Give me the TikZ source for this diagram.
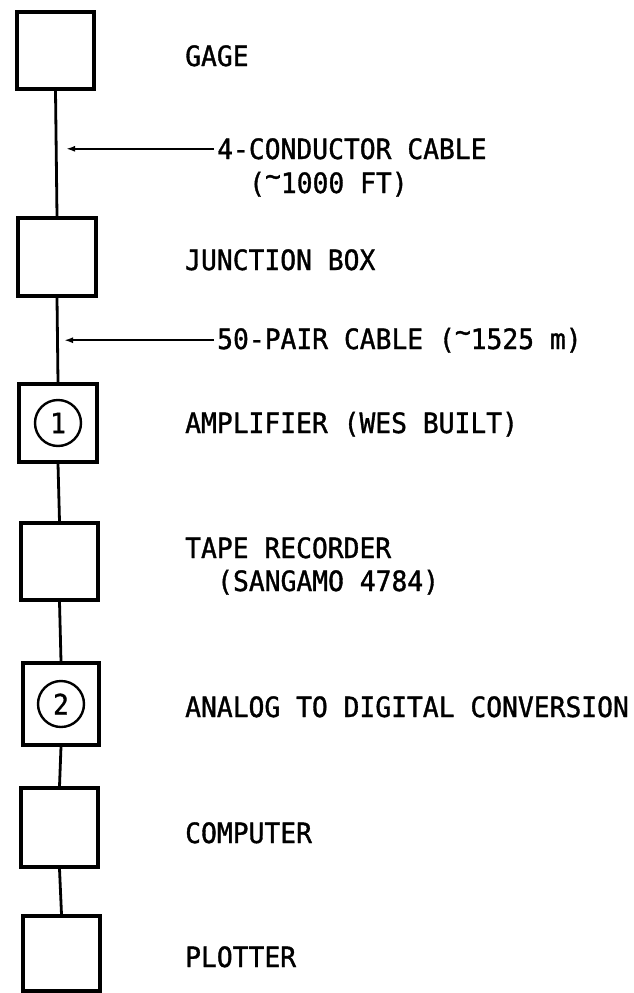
\documentclass[tikz,border=0pt]{standalone}
\usepackage{fontspec}
\newfontfamily\labfont{DejaVu Sans Mono}[FakeStretch=0.94,FakeBold=1.2]
\usetikzlibrary{arrows.meta}
\newcommand{\tld}{\raisebox{0.26em}{\textasciitilde}}
\begin{document}
\begin{tikzpicture}[x=1pt,y=-1pt,
  blk/.style={draw, line width=3.2pt, minimum width=77pt, minimum height=77pt, inner sep=0pt},
  lab/.style={anchor=base west, inner xsep=3pt, inner ysep=0pt, font=\labfont\fontsize{28}{32}\selectfont},
  link/.style={line width=2.8pt},
  ptr/.style={line width=2pt, -{Latex[length=9pt,width=6pt]}},
  num/.style={draw, circle, line width=2.4pt, minimum size=46pt, inner sep=0pt, font=\labfont\fontsize{28}{32}\selectfont}]
\useasboundingbox (0,0) rectangle (633,993);
% boxes
\node[blk] (b1) at (55.5,50.5) {};
\node[blk, minimum width=78pt, minimum height=78pt] (b2) at (57,257) {};
\node[blk, minimum width=78pt, minimum height=78pt] (b3) at (58,423) {};
\node[blk] (b4) at (59.5,561.5) {};
\node[blk, minimum width=76pt, minimum height=82pt] (b5) at (61,704) {};
\node[blk, minimum height=79pt] (b6) at (59.5,827.5) {};
\node[blk, minimum height=75pt] (b7) at (61.5,953.5) {};
% circled numbers
\node[num] (n1) at (b3.center) {1};
\node[num] (n2) at (b5.center) {2};
% connectors
\draw[link] (b1.south) -- (b2.north);
\draw[link] (b2.south) -- (b3.north);
\draw[link] (b3.south) -- (b4.north);
\draw[link] (b4.south) -- (b5.north);
\draw[link] (b5.south) -- (b6.north);
\draw[link] (b6.south) -- (b7.north);
% labels
\node[lab] (gage) at (182,66) {GAGE};
\node[lab] (cab1) at (214,159) {4-CONDUCTOR CABLE};
\node[lab] (cab1b) at (246,193) {(\tld1000 FT)};
\node[lab] (junc) at (182,270) {JUNCTION BOX};
\node[lab] (cab2) at (214,349) {50-PAIR CABLE (\tld1525 m)};
\node[lab] (amp) at (182,433) {AMPLIFIER (WES BUILT)};
\node[lab] (tape) at (182,558) {TAPE RECORDER};
\node[lab] (tapeb) at (214,591) {(SANGAMO 4784)};
\node[lab] (adc) at (182,717) {ANALOG TO DIGITAL CONVERSION};
\node[lab] (comp) at (182,843) {COMPUTER};
\node[lab] (plot) at (182,967) {PLOTTER};
% pointer arrows
\coordinate (a1) at (66,146);
\coordinate (a2) at (64,338);
\draw[ptr] (cab1.west) -- (cab1.west -| a1);
\draw[ptr] (cab2.west) -- (cab2.west -| a2);
\end{tikzpicture}
\end{document}
